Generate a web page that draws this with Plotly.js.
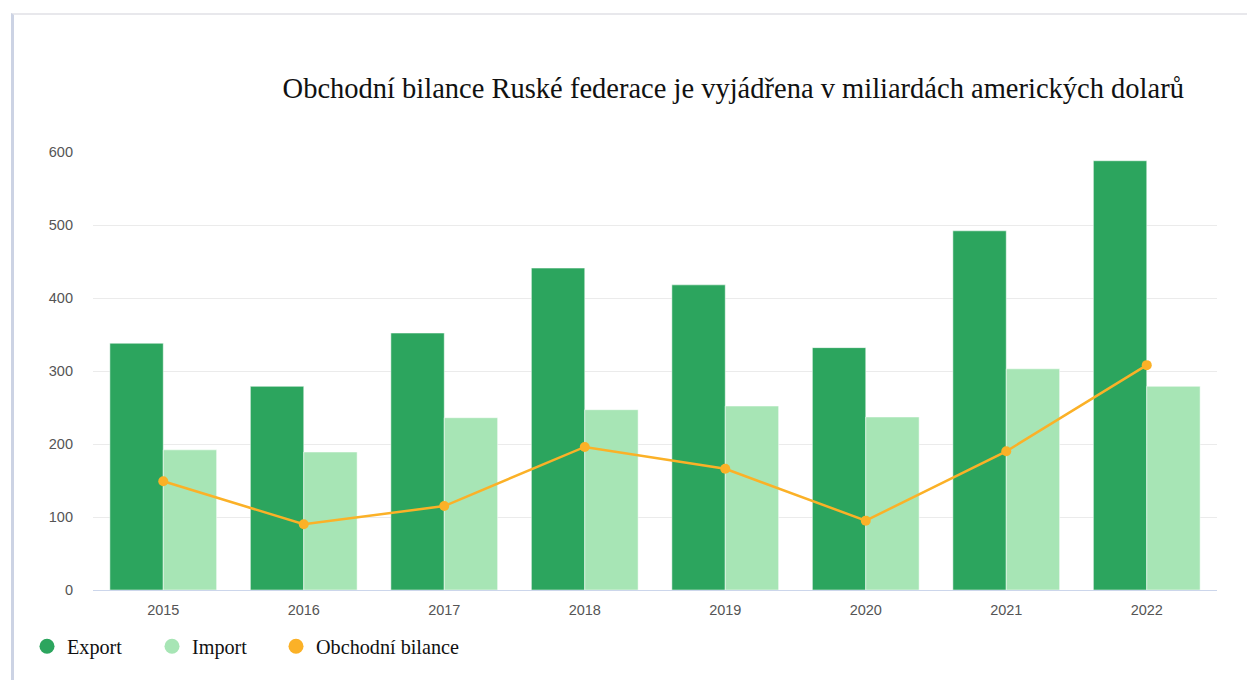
<!DOCTYPE html>
<html>
<head>
<meta charset="utf-8">
<script src="https://cdn.plot.ly/plotly-3.0.1.min.js"></script>
<style>
  html, body { margin: 0; padding: 0; background: #fff; }
  #frame { position: absolute; left: 11px; top: 13px; width: 1240px; height: 680px;
           border-left: 3px solid #ccd3e4; border-top: 2px solid #e8e8ec; }
  #chart { position: absolute; left: 0; top: 0; width: 1247px; height: 680px; }
</style>
</head>
<body>
<div id="frame"></div>
<div id="chart"></div>
<script>
const years = ['2015','2016','2017','2018','2019','2020','2021','2022'];
const exportVals = [338, 279, 352, 441, 418, 332, 492, 588];
const importVals = [192, 189, 236, 247, 252, 237, 303, 279];
const balanceVals = [149, 90, 115, 196, 166, 95, 190, 308];
const seriesNames = ['Export', 'Import', 'Obchodní bilance'];
const colors = ['#2ca55e', '#a7e5b5', '#fbb127'];

const traces = [
  { type: 'bar', x: years, y: exportVals, name: seriesNames[0], showlegend: false,
    marker: { color: colors[0], line: { color: 'rgba(255,255,255,0.5)', width: 1 } }, hoverinfo: 'y' },
  { type: 'bar', x: years, y: importVals, name: seriesNames[1], showlegend: false,
    marker: { color: colors[1], line: { color: 'rgba(255,255,255,0.5)', width: 1 } }, hoverinfo: 'y' },
  { type: 'scatter', mode: 'lines+markers', x: years, y: balanceVals, name: seriesNames[2], showlegend: false,
    line: { color: colors[2], width: 2.5 }, marker: { color: colors[2], size: 10 } },
];
const legendIds = ['legend', 'legend2', 'legend3'];
seriesNames.forEach((n, i) => {
  traces.push({ type: 'scatter', mode: 'markers', x: [null], y: [null], name: n, legend: legendIds[i],
    marker: { color: colors[i], size: 15, symbol: 'circle' }, hoverinfo: 'skip' });
});

const legendXs = [27, 152, 276];
const legendBase = {
  orientation: 'h', xref: 'container', yref: 'container', y: 0.049,
  xanchor: 'left', yanchor: 'middle', bgcolor: 'rgba(0,0,0,0)',
  font: { family: 'Liberation Serif, serif', size: 20.2, color: '#111' }
};

const layout = {
  width: 1247, height: 680,
  margin: { l: 93, r: 30, t: 152, b: 90 },
  paper_bgcolor: 'rgba(0,0,0,0)', plot_bgcolor: 'rgba(0,0,0,0)',
  barmode: 'group', bargap: 0.24, bargroupgap: 0,
  title: { text: 'Obchodní bilance Ruské federace je vyjádřena v miliardách amerických dolarů',
    font: { family: 'Liberation Serif, serif', size: 28.5, color: '#111' },
    xref: 'container', x: 0.588, xanchor: 'center', yref: 'container', y: 0.871, yanchor: 'middle' },
  xaxis: { type: 'category', showgrid: false, showline: true, linecolor: '#ccd6eb', linewidth: 1,
    ticks: '', tickfont: { family: 'Liberation Sans, Arial, sans-serif', size: 14.5, color: '#555' },
    ticklabelstandoff: 7, zeroline: false },
  yaxis: { range: [0, 600], tickvals: [0,100,200,300,400,500,600], showgrid: true, gridcolor: '#ebebeb',
    gridwidth: 1, zeroline: false, showline: false,
    tickfont: { family: 'Liberation Sans, Arial, sans-serif', size: 14.5, color: '#555' },
    ticklabelstandoff: 19 },
  legend: Object.assign({}, legendBase, { x: legendXs[0] / 1247 }),
  legend2: Object.assign({}, legendBase, { x: legendXs[1] / 1247 }),
  legend3: Object.assign({}, legendBase, { x: legendXs[2] / 1247 }),
  showlegend: true
};
Plotly.newPlot('chart', traces, layout, { displayModeBar: false });
</script>
</body>
</html>
